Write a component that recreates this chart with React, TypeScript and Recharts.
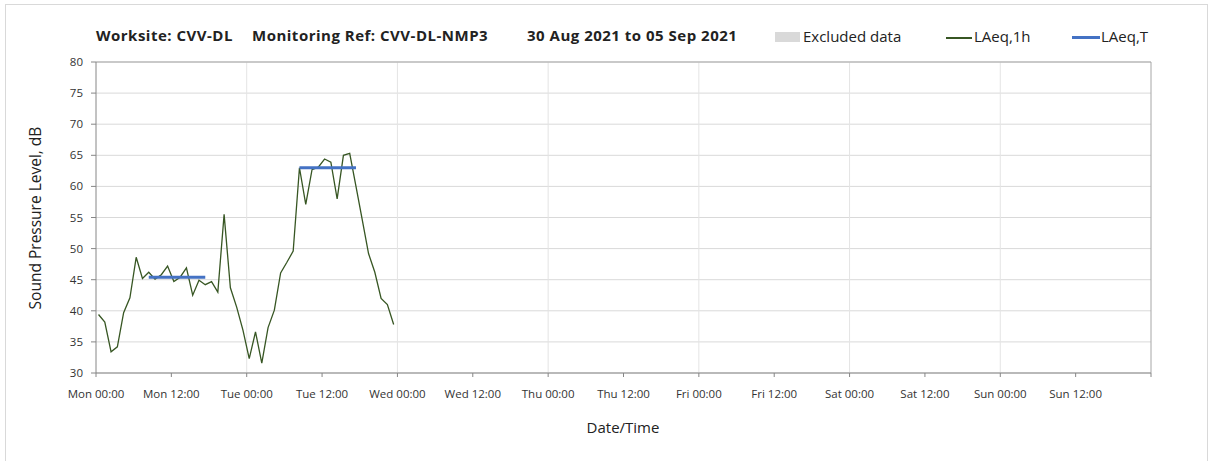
import { LineChart, Line, XAxis, YAxis, CartesianGrid, ReferenceLine } from 'recharts'

// hourly LAeq,1h readings from Mon 00:00 onwards (dB)
const LAEQ_1H = [
  39.4, 38.2, 33.4, 34.2, 39.7, 42.1, 48.6, 45.2, 46.2, 45.1,
  45.8, 47.2, 44.7, 45.4, 46.9, 42.5, 44.9, 44.2, 44.7, 43.0,
  55.5, 43.7, 40.6, 36.9, 32.3, 36.6, 31.6, 37.3, 40.1, 46.1,
  47.8, 49.6, 63.0, 57.1, 62.7, 63.1, 64.4, 63.9, 58.0, 65.0,
  65.3, 60.0, 54.6, 49.2, 46.2, 42.0, 41.0, 37.8,
]
// first reading sits a little after the hour
const FIRST_READING_H = 0.4

// LAeq,T daytime periods (index range of the hourly readings)
const PERIOD_START = [8, 32]
const PERIOD_END = [17, 41]
const PERIOD_VALUE = [45.4, 63.0]

const TICK_HOURS = [0, 12, 24, 36, 48, 60, 72, 84, 96, 108, 120, 132, 144, 156, 168]
const TICK_LABELS = [
  'Mon 00:00', 'Mon 12:00', 'Tue 00:00', 'Tue 12:00', 'Wed 00:00', 'Wed 12:00',
  'Thu 00:00', 'Thu 12:00', 'Fri 00:00', 'Fri 12:00', 'Sat 00:00', 'Sat 12:00',
  'Sun 00:00', 'Sun 12:00', '',
]
const DAY_LINES = [24, 48, 72, 96, 120, 144]
const Y_TICKS = [30, 35, 40, 45, 50, 55, 60, 65, 70, 75, 80]

const chartData = LAEQ_1H.map((v, i) => {
  let t: number | null = null
  PERIOD_START.forEach((s, p) => {
    if (i >= s && i <= PERIOD_END[p]!) t = PERIOD_VALUE[p]!
  })
  return { hour: i + FIRST_READING_H, laeq1h: v, laeqT: t }
})

const FONT = "'Open Sans', 'DejaVu Sans', sans-serif"
const AXIS = '#868686'
const titleStyle = { position: 'absolute' as const, top: 25, fontSize: 15, fontWeight: 700, letterSpacing: 0.5, whiteSpace: 'nowrap' as const }
const legendText = { position: 'absolute' as const, top: 26, fontSize: 15, whiteSpace: 'nowrap' as const }

export default function App() {
  return (
    <div style={{ position: 'absolute', left: 0, top: 0, width: 1208, height: 461, background: '#fff', overflow: 'hidden', fontFamily: FONT, color: '#222' }}>
      <div style={{ position: 'absolute', left: 5, top: 4, width: 1201, height: 470, border: '1px solid #d9d9d9' }} />

      {/* title */}
      <div style={{ ...titleStyle, left: 96 }}>Worksite: CVV-DL</div>
      <div style={{ ...titleStyle, left: 252 }}>Monitoring Ref: CVV-DL-NMP3</div>
      <div style={{ ...titleStyle, left: 527 }}>30 Aug 2021 to 05 Sep 2021</div>

      {/* legend */}
      <div style={{ position: 'absolute', top: 32, left: 775, width: 25, height: 10, background: '#d9d9d9' }} />
      <div style={{ ...legendText, left: 803 }}>Excluded data</div>
      <div style={{ position: 'absolute', top: 37, left: 946, width: 26, height: 1.5, background: '#375623' }} />
      <div style={{ ...legendText, left: 974 }}>LAeq,1h</div>
      <div style={{ position: 'absolute', top: 36, left: 1072, width: 28, height: 3, background: '#4472C4' }} />
      <div style={{ ...legendText, left: 1101 }}>LAeq,T</div>

      {/* axis titles */}
      <div style={{ position: 'absolute', left: 35, top: 218, fontSize: 15.5, whiteSpace: 'nowrap', transform: 'translate(-50%, -50%) rotate(-90deg)' }}>Sound Pressure Level, dB</div>
      <div style={{ position: 'absolute', left: 623, top: 427, fontSize: 15, whiteSpace: 'nowrap', transform: 'translate(-50%, -50%)' }}>Date/Time</div>

      <div style={{ position: 'absolute', left: 0, top: 0 }}>
        <LineChart width={1208} height={461} data={chartData} margin={{ top: 62, right: 57, left: 36, bottom: 58 }}>
          <CartesianGrid horizontal vertical={false} stroke="#d9d9d9" />
          {DAY_LINES.map(d => (
            <ReferenceLine key={d} x={d} stroke="#e4e4e4" />
          ))}
          <ReferenceLine x={168} stroke="#a6a6a6" />
          <ReferenceLine y={80} stroke="#a6a6a6" />
          <XAxis
            type="number"
            dataKey="hour"
            domain={[0, 168]}
            ticks={TICK_HOURS}
            tickFormatter={(h: number) => TICK_LABELS[TICK_HOURS.indexOf(h)] ?? ''}
            interval={0}
            height={30}
            tickSize={4}
            tickMargin={13}
            stroke={AXIS}
            tick={{ fontSize: 11.5, fill: '#333', fontFamily: FONT }}
          />
          <YAxis
            type="number"
            domain={[30, 80]}
            ticks={Y_TICKS}
            interval={0}
            width={60}
            tickSize={5}
            tickMargin={8}
            stroke={AXIS}
            tick={{ fontSize: 11.5, fill: '#333', fontFamily: FONT }}
          />
          <Line dataKey="laeq1h" stroke="#375623" strokeWidth={1.3} dot={false} activeDot={false} isAnimationActive={false} />
          <Line dataKey="laeqT" stroke="#4472C4" strokeWidth={3} dot={false} activeDot={false} connectNulls={false} isAnimationActive={false} />
        </LineChart>
      </div>
    </div>
  )
}
